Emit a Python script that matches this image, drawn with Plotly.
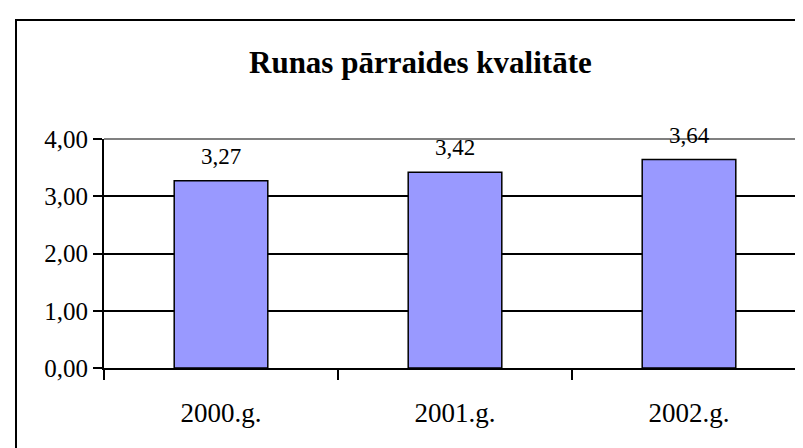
import plotly.graph_objects as go

categories = ["2000.g.", "2001.g.", "2002.g."]
values = [3.27, 3.42, 3.64]
value_labels = ["3,27", "3,42", "3,64"]
title_text = "Runas pārraides kvalitāte"
y_ticks = [0, 1, 2, 3, 4]

W, H = 803, 448
ML, MR, MT, MB = 96, 5, 131, 88
PW = W - ML - MR
PH = H - MT - MB

def px_x(px):
    return (px - ML) / PW

def px_y(py):
    return (H - MB - py) / PH

FONT = "Liberation Serif"

fig = go.Figure()
fig.add_trace(go.Bar(
    x=categories, y=values,
    marker=dict(color="#9999FF", line=dict(color="black", width=1.5)),
    hoverinfo="skip",
))

for c, v, lab in zip(categories, values, value_labels):
    fig.add_annotation(x=c, y=v, text=lab, showarrow=False, xref="x", yref="y",
                       yanchor="bottom", yshift=10,
                       font=dict(family=FONT, size=23, color="black"))

fig.add_annotation(x=px_x(412), y=px_y(54), xref="paper", yref="paper",
                   text="<b>" + title_text + "</b>", showarrow=False,
                   xanchor="center", yanchor="middle",
                   font=dict(family=FONT, size=31, color="black"))

shapes = [
    dict(type="rect", xref="paper", yref="paper", x0=px_x(8), x1=1.2,
         y0=-0.7, y1=px_y(12), line=dict(color="black", width=2),
         fillcolor="rgba(0,0,0,0)", layer="above"),
    dict(type="line", xref="paper", yref="paper", x0=0, x1=1, y0=1, y1=1,
         line=dict(color="#808080", width=2), layer="above"),
    dict(type="line", xref="paper", yref="paper", x0=1, x1=1, y0=0, y1=1,
         line=dict(color="#808080", width=2), layer="above"),
]

fig.update_layout(
    width=W, height=H,
    margin=dict(l=ML, r=MR, t=MT, b=MB, pad=0),
    paper_bgcolor="white", plot_bgcolor="white",
    showlegend=False,
    bargap=0.6,
    separators=", ",
    shapes=shapes,
    font=dict(family=FONT, color="black"),
)

fig.update_xaxes(
    type="category", tickson="boundaries", ticks="outside", ticklen=10,
    tickwidth=2, tickcolor="black", showline=True, linecolor="black",
    linewidth=2, showgrid=False, zeroline=False,
    tickfont=dict(family=FONT, size=27, color="black"),
    ticklabelstandoff=20,
)
fig.update_yaxes(
    range=[0, 4], tickvals=y_ticks, tickformat=".2f",
    ticks="outside", ticklen=9, tickwidth=2, tickcolor="black",
    showline=True, linecolor="black", linewidth=2,
    showgrid=True, gridcolor="black", gridwidth=1.5, zeroline=False,
    tickfont=dict(family=FONT, size=25, color="black"),
    ticklabelstandoff=0,
)

fig.write_html("out.html")
